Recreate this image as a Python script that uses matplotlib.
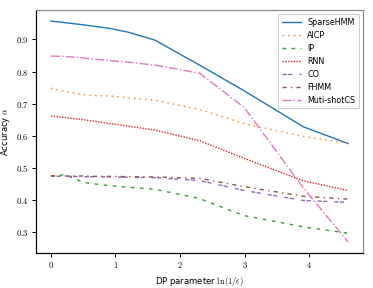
import numpy as np
import matplotlib
matplotlib.use("Agg")
import matplotlib.pyplot as plt
from matplotlib.ticker import FuncFormatter

plt.rcParams['mathtext.fontset'] = 'cm'
plt.rcParams['font.family'] = ['DejaVu Sans']

# ==============================
# Data
# ==============================
eps = [1, 0.8, 0.6, 0.5, 0.4, 0.3, 0.2, 0.1, 0.05, 0.02, 0.01]
x = np.log(1 / np.array(eps))

sparse_hmm = [0.957, 0.952, 0.945, 0.940, 0.934, 0.922, 0.898, 0.820, 0.740, 0.628, 0.576]
aicp = [0.748, 0.738, 0.728, 0.725, 0.724, 0.718, 0.711, 0.682, 0.638, 0.598, 0.577]
ip = [0.475, 0.479, 0.455, 0.450, 0.445, 0.440, 0.434, 0.405, 0.352, 0.317, 0.297]
rnn = [0.662, 0.657, 0.650, 0.645, 0.638, 0.630, 0.618, 0.585, 0.530, 0.460, 0.430]
co = [0.475, 0.474, 0.473, 0.473, 0.472, 0.471, 0.470, 0.461, 0.430, 0.399, 0.393]
fhmm = [0.476, 0.475, 0.475, 0.474, 0.474, 0.473, 0.472, 0.468, 0.442, 0.412, 0.403]
multishot = [0.848, 0.847, 0.842, 0.838, 0.834, 0.829, 0.820, 0.795, 0.688, 0.438, 0.270]

xticks = [0, 1, 2, 3, 4]
yticks = [0.3, 0.4, 0.5, 0.6, 0.7, 0.8, 0.9]

# ==============================
# Plot
# ==============================
fig = plt.figure(figsize=(373 / 72, 288 / 72), dpi=72)
ax = fig.add_axes([36 / 373, 1 - 253 / 288, 327 / 373, 243 / 288])

lw = 1.4
ax.plot(x, sparse_hmm, color='#1f77b4', lw=lw, label='SparseHMM')
ax.plot(x, aicp, color='#ff7f0e', lw=lw, linestyle=(0, (1, 3)), label='AICP')
ax.plot(x, ip, color='#2ca02c', lw=lw, linestyle=(0, (2.5, 4)), label='IP')
ax.plot(x, rnn, color='#d62728', lw=lw, linestyle=(0, (1, 1)), label='RNN')
ax.plot(x, co, color='#9467bd', lw=lw, linestyle=(0, (3, 1, 3, 5)), label='CO')
ax.plot(x, fhmm, color='#8c564b', lw=lw, linestyle=(0, (3, 3, 1, 3)), label='FHMM')
ax.plot(x, multishot, color='#e377c2', lw=lw, linestyle='-.', label='Muti-shotCS')

ax.set_xticks(xticks)
ax.set_yticks(yticks)
ax.xaxis.set_major_formatter(FuncFormatter(lambda v, p: r'$%g$' % v))
ax.yaxis.set_major_formatter(FuncFormatter(lambda v, p: r'$%.1f$' % v))
ax.tick_params(labelsize=8.5, length=4, width=1.0, direction='out')

for s in ['left', 'bottom']:
    ax.spines[s].set_color('black')
    ax.spines[s].set_linewidth(1.2)
for s in ['top', 'right']:
    ax.spines[s].set_color('#888888')
    ax.spines[s].set_linewidth(1.2)

ax.set_xlabel(r'DP parameter $\ln(1/\epsilon)$', fontsize=8.5)
ax.set_ylabel(r'Accuracy $\alpha$', fontsize=8.5)

ax.legend(loc='upper right', fontsize=8, handlelength=2.4, framealpha=1,
          edgecolor='#cccccc', borderpad=0.45, labelspacing=0.5)

fig.savefig('out.png', dpi=72)
